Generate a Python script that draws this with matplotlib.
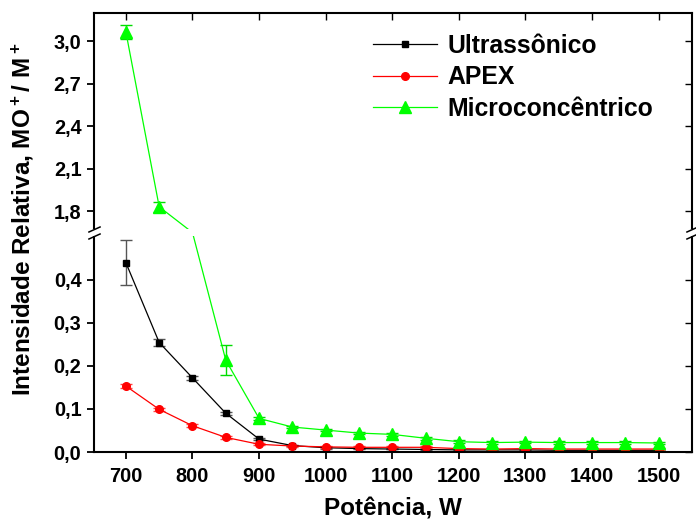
import numpy as np
import matplotlib
matplotlib.use('Agg')
import matplotlib.pyplot as plt
import matplotlib.transforms as mtransforms
from matplotlib.patches import Rectangle
from matplotlib.ticker import FixedLocator, FuncFormatter

plt.rcParams['font.family'] = ['Liberation Sans', 'DejaVu Sans']
plt.rcParams['font.weight'] = 'bold'
plt.rcParams['mathtext.fontset'] = 'custom'
plt.rcParams['mathtext.rm'] = 'Liberation Sans:bold'
plt.rcParams['mathtext.bf'] = 'Liberation Sans:bold'
plt.rcParams['mathtext.default'] = 'bf'

potencia = [700, 750, 800, 850, 900, 950, 1000, 1050, 1100, 1150,
            1200, 1250, 1300, 1350, 1400, 1450, 1500]

ultra = [0.439, 0.254, 0.172, 0.090, 0.030, 0.015, 0.010, 0.008, 0.007, 0.006,
         0.005, 0.005, 0.005, 0.004, 0.004, 0.004, 0.004]
ultra_err = [0.052, 0.009, 0.005, 0.004, 0.003, 0.002, 0.002, 0.001, 0.001, 0.001,
             0.001, 0.001, 0.001, 0.001, 0.001, 0.001, 0.001]

apex = [0.153, 0.099, 0.061, 0.034, 0.018, 0.014, 0.012, 0.011, 0.011, 0.011,
        0.008, 0.007, 0.008, 0.007, 0.007, 0.007, 0.007]
apex_err = [0.005, 0.004, 0.004, 0.004, 0.002, 0.002, 0.002, 0.002, 0.002, 0.002,
            0.002, 0.002, 0.002, 0.002, 0.002, 0.002, 0.002]

micro = [3.065, 1.83, 1.15, 0.213, 0.078, 0.058, 0.051, 0.044, 0.041, 0.032,
         0.024, 0.022, 0.023, 0.022, 0.022, 0.022, 0.021]
micro_err = [0.05, 0.035, 0.0, 0.035, 0.004, 0.003, 0.003, 0.003, 0.003, 0.003,
             0.003, 0.003, 0.003, 0.003, 0.003, 0.003, 0.003]

xticks = [700, 800, 900, 1000, 1100, 1200, 1300, 1400, 1500]
yticks = [0.0, 0.1, 0.2, 0.3, 0.4, 1.8, 2.1, 2.4, 2.7, 3.0]

# broken y axis: 0-0.5 and 1.67-3.2, the gap squeezed to a few pixels
lo_top, hi_bot, hi_top = 0.5, 1.67, 3.2
yk = [-10, 0, lo_top, hi_bot, hi_top, 10]
yp = [-4320, 0, 216, 223, 223 + (hi_top - hi_bot) * 141.7,
      223 + (10 - hi_bot) * 141.7]

def fwd(y):
    return np.interp(y, yk, yp)

def inv(p):
    return np.interp(p, yp, yk)

fig = plt.figure(figsize=(6.96, 5.22), dpi=100)
ax = fig.add_axes([0.135, 0.134, 0.859, 0.841])
ax.set_yscale('function', functions=(fwd, inv))

c1 = ax.errorbar(potencia, ultra, yerr=ultra_err, color='black', marker='s', ms=4.5,
                 lw=0.9, ecolor='#555555', elinewidth=1, capsize=4, label='Ultrassônico')
c2 = ax.errorbar(potencia, apex, yerr=apex_err, color='red', marker='o', ms=5.5,
                 lw=0.9, ecolor='#ff4444', elinewidth=1, capsize=4, label='APEX')
# the 800 W point falls inside the axis break, so no marker there
shown = [i for i, v in enumerate(micro) if not (lo_top < v < hi_bot)]
c3 = ax.errorbar(potencia, micro, yerr=micro_err, color='#00ff00', marker='^', ms=8,
                 markevery=shown, lw=0.9, ecolor='#00dd00', elinewidth=1, capsize=4.5,
                 label='Microconcêntrico')

ax.set_xlim(652, 1550)
ax.set_ylim(0, hi_top)
ax.xaxis.set_major_locator(FixedLocator(xticks))
ax.yaxis.set_major_locator(FixedLocator(yticks))
ax.yaxis.set_major_formatter(FuncFormatter(lambda v, p: f'{v:.1f}'.replace('.', ',')))
ax.minorticks_off()
ax.tick_params(direction='out', length=5, width=1.3, labelsize=14.3)
ax.tick_params(axis='x', pad=6)
ax.tick_params(axis='y', pad=4)
for s in ax.spines.values():
    s.set_linewidth(1.5)

# inward ticks on top and right
top = ax.twiny()
top.set_xlim(ax.get_xlim())
top.xaxis.set_major_locator(FixedLocator(xticks))
top.tick_params(direction='in', length=5, width=1.0, labeltop=False)
right = ax.twinx()
right.set_yscale('function', functions=(fwd, inv))
right.set_ylim(ax.get_ylim())
right.yaxis.set_major_locator(FixedLocator(yticks))
right.minorticks_off()
right.tick_params(direction='in', length=5, width=1.0, labelright=False)
for a in (top, right):
    for s in a.spines.values():
        s.set_visible(False)

# blank out the gap and draw the break marks
blend = mtransforms.blended_transform_factory(ax.transAxes, ax.transData)
ax.add_patch(Rectangle((-0.03, lo_top), 1.06, hi_bot - lo_top, transform=blend,
                       facecolor='white', edgecolor='none', clip_on=False, zorder=10))
for yb in (lo_top, hi_bot):
    ax.plot([0, 1], [yb, yb], transform=blend, ls='none', marker=[(-1, -0.45), (1, 0.45)],
            ms=9, mew=1.1, color='black', clip_on=False, zorder=11)

ax.set_xlabel('Potência, W', fontsize=17.5, fontweight='bold', labelpad=8)
ax.set_ylabel(r'Intensidade Relativa, MO$^+$/ M$^+$', fontsize=17.5, fontweight='bold')
ax.yaxis.set_label_coords(-0.097, 0.53)

leg = ax.legend(handles=[c1[0], c2[0], c3[0]], labels=['Ultrassônico', 'APEX', 'Microconcêntrico'],
                loc='upper left', bbox_to_anchor=(0.45, 0.975), frameon=False,
                fontsize=17.8, handlelength=2.6, handletextpad=0.4, labelspacing=0.3,
                borderaxespad=0)
for t in leg.get_texts():
    t.set_fontweight('bold')

fig.savefig('out.png', dpi=100)
